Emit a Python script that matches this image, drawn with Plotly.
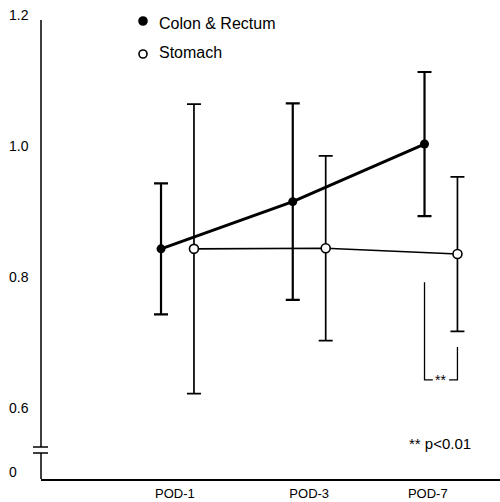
import plotly.graph_objects as go

# ---- data ----
categories = ["POD-1", "POD-3", "POD-7"]
cat_pos = [1, 2, 3]
colon_mean = [0.843, 0.915, 1.003]
colon_sd = [0.100, 0.150, 0.110]
stomach_mean = [0.843, 0.844, 0.835]
stomach_sd = [0.221, 0.141, 0.118]
y_tick_vals = [1.2, 1.0, 0.8, 0.6]
y_tick_text = ["1.2", "1.0", "0.8", "0.6"]
zero_label = "0"
sig_text = "**"
note_text = "** p<0.01"
legend_names = ["Colon & Rectum", "Stomach"]
# significance bracket (values)
bracket_left_top = 0.792
bracket_right_top = 0.693
bracket_bottom = 0.643

# ---- layout constants ----
W, H = 500, 502
ML, MR, MT, MB = 41, 0, 15, 23
PW, PH = W - ML - MR, H - MT - MB
offset = 0.125
x_range = [-0.036, 3.448]
y_range = [0.4916, 1.2]
zero_pos = 0.5023
tick_label_pos = [0.98, 2.0, 2.9]
FONT = "Liberation Sans, Arial, Helvetica, sans-serif"


def px_x(p):  # pixel -> paper x
    return (p - ML) / PW


def px_y(p):  # pixel -> paper y
    return (H - MB - p) / PH


colon_x = [c - offset for c in cat_pos]
stom_x = [c + offset for c in cat_pos]

fig = go.Figure()
fig.add_trace(go.Scatter(
    x=colon_x, y=colon_mean, mode="lines+markers",
    line=dict(color="black", width=3),
    marker=dict(symbol="circle", size=9, color="black"),
    error_y=dict(type="data", array=colon_sd, visible=True,
                 color="black", thickness=2.2, width=7),
    showlegend=False))
fig.add_trace(go.Scatter(
    x=stom_x, y=stomach_mean, mode="lines+markers",
    line=dict(color="black", width=1.6),
    marker=dict(symbol="circle", size=9, color="white",
                line=dict(color="black", width=1.6)),
    error_y=dict(type="data", array=stomach_sd, visible=True,
                 color="black", thickness=1.7, width=7),
    showlegend=False))

shapes = []
# y axis line with break
shapes.append(dict(type="line", xref="paper", yref="paper",
                   x0=0, x1=0, y0=px_y(20), y1=px_y(447),
                   line=dict(color="black", width=1.5)))
shapes.append(dict(type="line", xref="paper", yref="paper",
                   x0=0, x1=0, y0=px_y(453), y1=0,
                   line=dict(color="black", width=1.5)))
for py in (447, 453):
    shapes.append(dict(type="line", xref="paper", yref="paper",
                       x0=px_x(33), x1=px_x(48), y0=px_y(py), y1=px_y(py),
                       line=dict(color="black", width=1.5)))
# significance bracket
xc = colon_x[2]
xs = stom_x[2]
seg = 0.063
shapes.append(dict(type="path", xref="x", yref="y",
                   path=f"M {xc},{bracket_left_top} L {xc},{bracket_bottom} L {xc+seg},{bracket_bottom}",
                   line=dict(color="black", width=1.3)))
shapes.append(dict(type="path", xref="x", yref="y",
                   path=f"M {xs-seg},{bracket_bottom} L {xs},{bracket_bottom} L {xs},{bracket_right_top}",
                   line=dict(color="black", width=1.3)))
# legend markers
leg_y = [px_y(21), px_y(54)]
leg_fill = ["black", "white"]
for yy, fc in zip(leg_y, leg_fill):
    shapes.append(dict(type="circle", xref="paper", yref="paper",
                       xsizemode="pixel", ysizemode="pixel",
                       xanchor=px_x(143), yanchor=yy,
                       x0=-4, x1=4, y0=-4, y1=4,
                       fillcolor=fc, line=dict(color="black", width=1.6)))

annotations = []
for v, t in zip(y_tick_vals + [zero_pos], y_tick_text + [zero_label]):
    annotations.append(dict(x=px_x(7), xref="paper", y=v, yref="y",
                            text=t, showarrow=False, xanchor="left",
                            yanchor="middle",
                            font=dict(family=FONT, size=14, color="black")))
for name, yy in zip(legend_names, [px_y(23), px_y(53)]):
    annotations.append(dict(x=px_x(157), xref="paper", y=yy, yref="paper",
                            text=name, showarrow=False, xanchor="left",
                            yanchor="middle",
                            font=dict(family=FONT, size=16, color="black")))
annotations.append(dict(x=(xc + xs) / 2, xref="x", y=bracket_bottom, yref="y",
                        text=sig_text, showarrow=False, xanchor="center",
                        yanchor="middle",
                        font=dict(family=FONT, size=14, color="black")))
annotations.append(dict(x=px_x(407), xref="paper", y=px_y(443), yref="paper",
                        text=note_text, showarrow=False, xanchor="left",
                        yanchor="middle",
                        font=dict(family=FONT, size=15, color="black")))

fig.update_layout(
    width=W, height=H,
    margin=dict(l=ML, r=MR, t=MT, b=MB, pad=0),
    paper_bgcolor="white", plot_bgcolor="white",
    shapes=shapes, annotations=annotations,
    xaxis=dict(range=x_range, tickvals=tick_label_pos, ticktext=categories,
               showgrid=False, zeroline=False, showline=True,
               linecolor="black", linewidth=1.5, ticks="",
               ticklabelstandoff=2,
               tickfont=dict(family=FONT, size=13, color="black")),
    yaxis=dict(range=y_range, showgrid=False, zeroline=False,
               showline=False, showticklabels=False, ticks=""),
)

fig.write_html("out.html")
